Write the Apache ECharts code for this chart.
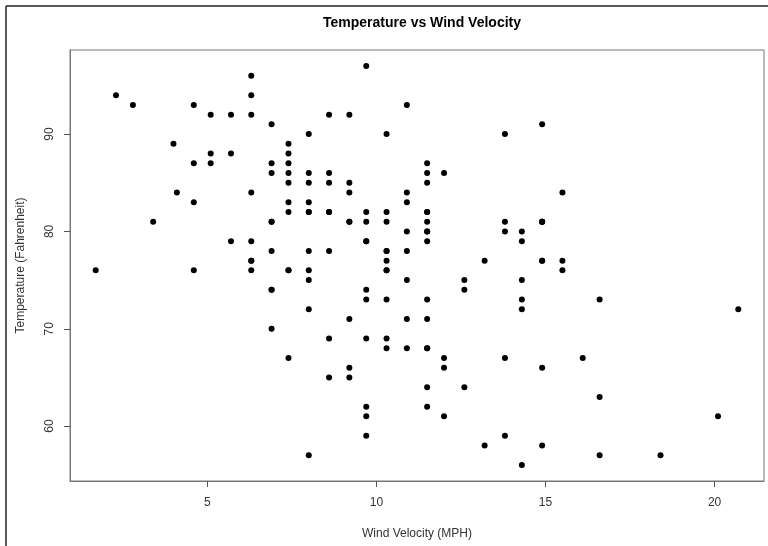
<!DOCTYPE html>
<html><head><meta charset="utf-8">
<script src="https://cdn.jsdelivr.net/npm/echarts@6/dist/echarts.min.js"></script>
<style>html,body{margin:0;padding:0;background:#fff}#c{width:768px;height:546px}</style>
</head><body><div id="c"></div>
<script>
const wind = [7.4,8.0,12.6,11.5,14.3,14.9,8.6,13.8,20.1,8.6,6.9,9.7,9.2,10.9,13.2,11.5,12.0,18.4,11.5,9.7,9.7,16.6,9.7,12.0,16.6,14.9,8.0,12.0,14.9,5.7,7.4,8.6,9.7,16.1,9.2,8.6,14.3,9.7,6.9,13.8,11.5,10.9,9.2,8.0,13.8,11.5,14.9,20.7,9.2,11.5,10.3,6.3,1.7,4.6,6.3,8.0,8.0,10.3,11.5,14.9,8.0,4.1,9.2,9.2,10.9,4.6,10.9,5.1,6.3,5.7,7.4,8.6,14.3,14.9,14.9,14.3,6.9,10.3,6.3,5.1,11.5,6.9,9.7,11.5,8.6,8.0,8.6,12.0,7.4,7.4,7.4,9.2,6.9,13.8,7.4,6.9,7.4,4.6,4.0,10.3,8.0,8.6,11.5,11.5,11.5,9.7,11.5,10.3,6.3,7.4,10.9,10.3,15.5,14.3,12.6,9.7,3.4,8.0,5.7,9.7,2.3,6.3,6.3,6.9,5.1,2.8,4.6,7.4,15.5,10.9,10.3,10.9,9.7,14.9,15.5,6.3,10.9,11.5,6.9,13.8,10.3,10.3,8.0,12.6,9.2,10.3,10.3,16.6,6.9,13.2,14.3,8.0,11.5];
const temp = [67,72,74,62,56,66,65,59,61,69,74,69,66,68,58,64,66,57,68,62,59,73,61,61,57,58,57,67,81,79,76,78,74,67,84,85,79,82,87,90,87,93,92,82,80,79,77,72,65,73,76,77,76,76,76,75,78,73,80,77,83,84,85,81,84,83,83,88,92,92,89,82,73,81,91,80,81,82,84,87,85,74,81,82,86,85,82,86,88,86,83,81,81,81,82,86,85,87,89,90,90,92,86,82,80,79,81,77,79,76,78,78,77,72,75,79,81,86,88,97,94,96,94,91,92,93,93,87,84,80,78,75,73,81,76,77,71,71,78,67,76,68,82,64,71,81,69,63,70,77,75,76,68];
const xTicks = [5,10,15,20];
const yTicks = [60,70,80,90];
const points = wind.map((w,i)=>[w,temp[i]]);
const chart = echarts.init(document.getElementById('c'));
const font = 'Liberation Sans, Arial, sans-serif';
chart.setOption({
  animation:false,
  backgroundColor:'#fff',
  title:{text:'Temperature vs Wind Velocity',left:417,top:11,textAlign:'center',
    textStyle:{fontFamily:font,fontSize:14,fontWeight:'bold',color:'#000'}},
  grid:{left:70,right:4,top:50,bottom:65,show:true,borderColor:'#777',borderWidth:1},
  xAxis:{type:'value',min:0.94,max:21.46,
    name:'Wind Velocity (MPH)',nameLocation:'middle',nameGap:47,
    nameTextStyle:{fontFamily:font,fontSize:12,color:'#333'},
    axisLine:{show:true,onZero:false,lineStyle:{color:'#777'}},
    axisTick:{show:true,length:6,lineStyle:{color:'#555'},customValues:xTicks},
    axisLabel:{fontFamily:font,fontSize:12,color:'#333',margin:16,customValues:xTicks,showMinLabel:true,showMaxLabel:true},
    splitLine:{show:false}},
  yAxis:{type:'value',min:54.36,max:98.64,
    name:'Temperature (Fahrenheit)',nameLocation:'middle',nameGap:43,
    nameTextStyle:{fontFamily:font,fontSize:12,color:'#333'},
    axisLine:{show:true,onZero:false,lineStyle:{color:'#777'}},
    axisTick:{show:true,length:6,lineStyle:{color:'#555'},customValues:yTicks},
    axisLabel:{fontFamily:font,fontSize:12,color:'#333',margin:14,rotate:90,customValues:yTicks,showMinLabel:true,showMaxLabel:true},
    splitLine:{show:false}},
  series:[{type:'scatter',data:points,symbol:'circle',symbolSize:6,
    itemStyle:{color:'#000',opacity:1}}],
  graphic:[
    {type:'line',shape:{x1:6,y1:6,x2:768,y2:6},style:{stroke:'#222',lineWidth:1.5}},
    {type:'line',shape:{x1:6,y1:6,x2:6,y2:546},style:{stroke:'#222',lineWidth:1.5}}
  ]
});
</script></body></html>
